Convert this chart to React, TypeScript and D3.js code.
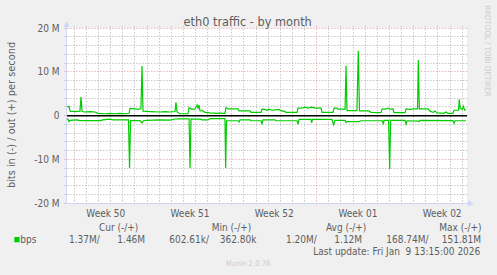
import React from "react";
import * as d3 from "d3";

// ---------- data (values in Mbit/s, x in days since graph start) ----------
const outSeries: [number, number][] = [
  [0, 2.0], [0.165, 2.1], [0.25, 1.0], [0.66, 0.9], [1.07, 1.0], [1.155, 4.2], [1.24, 1.0],
  [1.4, 0.8], [1.9, 0.9], [2.31, 0.8], [2.56, 0.5], [3.14, 0.4], [3.55, 0.5], [3.96, 0.4],
  [4.37, 0.5], [4.79, 0.4], [5.12, 0.5], [5.2, 1.6], [5.61, 1.5], [5.86, 1.4], [6.1, 1.6],
  [6.19, 11.3], [6.27, 1.0], [6.85, 0.9], [7.67, 0.8], [8.09, 0.9], [8.5, 0.8], [8.91, 0.9],
  [8.99, 3.0], [9.08, 0.8], [9.32, 0.4], [9.98, 0.4], [10.07, 1.8], [10.31, 1.4], [10.56, 1.5],
  [10.73, 2.4], [10.81, 1.7], [10.89, 2.4], [10.97, 1.1], [11.22, 1.05], [11.39, 0.7],
  [11.8, 0.6], [12.46, 0.5], [12.62, 0.6], [12.79, 0.5], [13.03, 0.5], [13.12, 1.8],
  [13.28, 1.5], [14.11, 1.5], [14.19, 1.05], [15.1, 1.05], [15.18, 0.7], [16.01, 0.7],
  [16.09, 1.45], [16.34, 1.4], [16.5, 1.2], [16.67, 1.45], [16.91, 1.2], [17.16, 1.3],
  [17.49, 1.4], [17.66, 1.1], [17.99, 0.9], [18.07, 0.7], [18.98, 0.7], [19.06, 1.7],
  [19.47, 1.75], [19.64, 1.9], [19.88, 1.7], [20.21, 1.9], [20.46, 1.7], [20.96, 1.7],
  [21.04, 0.7], [21.95, 0.7], [22.03, 1.7], [22.27, 1.7], [22.36, 1.45], [22.94, 1.45],
  [23.02, 11.35], [23.1, 1.1], [23.92, 1.1], [24.03, 14.8], [24.13, 1.05], [24.91, 1.05],
  [25.08, 0.7], [25.91, 0.65], [25.99, 1.45], [26.32, 1.5], [26.48, 1.7], [26.65, 1.45],
  [26.9, 1.5], [26.98, 0.65], [27.89, 0.65], [27.97, 1.5], [28.3, 1.4], [28.63, 1.5],
  [28.92, 1.5], [28.98, 12.7], [29.07, 1.5], [29.78, 1.5], [29.95, 1.0], [30.2, 0.7],
  [30.36, 1.0], [30.53, 0.6], [31.11, 0.5], [31.27, 0.8], [31.43, 0.5], [31.84, 0.5],
  [31.93, 1.2], [32.3, 1.2], [32.36, 3.7], [32.44, 1.6], [32.59, 1.4], [32.7, 2.1],
  [32.79, 1.3], [32.92, 1.3],
];

const inSeries: [number, number][] = [
  [0, -0.85], [0.08, -0.85], [0.165, -1.4], [0.25, -1.1], [0.83, -1.0], [1.07, -1.15],
  [2.72, -1.15], [2.97, -1.0], [3.3, -0.9], [3.55, -0.85], [3.8, -1.0], [4.79, -1.0],
  [5.07, -1.0], [5.16, -12.0], [5.24, -1.15], [6.02, -1.15], [6.19, -1.7], [6.31, -1.2],
  [6.6, -1.1], [7.67, -1.0], [8.5, -1.05], [8.91, -0.8], [9.16, -0.75], [10.07, -0.75],
  [10.15, -12.0], [10.23, -0.85], [10.97, -0.85], [11.14, -1.0], [11.63, -1.0], [11.8, -0.7],
  [13.03, -0.7], [13.09, -12.0], [13.16, -1.2], [14.11, -1.2], [14.19, -1.5], [14.27, -1.0],
  [15.1, -1.0], [15.18, -1.2], [16.01, -1.2], [16.09, -2.0], [16.17, -1.0], [17.16, -1.0],
  [17.24, -1.2], [18.98, -1.2], [19.06, -2.0], [19.14, -0.9], [20.13, -0.9], [20.19, -1.7],
  [20.25, -0.9], [21.86, -0.9], [21.99, -2.1], [22.11, -1.1], [22.94, -1.1], [23.02, -1.6],
  [23.1, -1.4], [24.09, -1.4], [24.26, -1.2], [26.03, -1.2], [26.1, -2.0], [26.16, -1.1],
  [26.53, -1.1], [26.62, -12.26], [26.7, -1.1], [27.89, -1.1], [27.97, -2.0], [28.05, -1.2],
  [28.96, -1.3], [29.04, -1.4], [29.12, -1.1], [31.84, -1.15], [31.93, -1.8], [32.01, -1.2],
  [32.92, -1.2],
];

const yTicks = [20, 10, 0, -10, -20];
const yTickLabels = ["20 M", "10 M", "0", "-10 M", "-20 M"];
const weekStarts = [6.6, 13.6, 20.6, 27.6];
const weekLabelDays = [3.2, 10.15, 17.1, 24.0, 30.95];
const weekLabels = ["Week 50", "Week 51", "Week 52", "Week 01", "Week 02"];
const legendHeaders = ["Cur (-/+)", "Min (-/+)", "Avg (-/+)", "Max (-/+)"];
const legendValues = ["1.37M/", "1.46M", "602.61k/", "362.80k", "1.20M/", "1.12M", "168.74M/", "151.81M"];

const W = 497;
const H = 275;
const FONT = "'DejaVu Sans Condensed', 'DejaVu Sans', sans-serif";
const TXT = "#5E5E5E";
const AXIS = "#CFD6F8";
const GREEN = "#00CC00";

export default function App() {
  const x = d3.scaleLinear().domain([0, 33]).range([67, 467]);
  const y = d3.scaleLinear().domain([-20, 20]).range([203, 28]);
  const px = (v: number) => Math.floor(v) + 0.5;

  const line = d3
    .line<[number, number]>()
    .x((d) => x(d[0]))
    .y((d) => y(d[1]));

  const minorY = d3.range(-20, 21, 2).filter((v) => v % 10 !== 0);
  const majorY = d3.range(-20, 21, 10);
  const firstDay = weekStarts[0] - 6;
  const minorX = d3.range(firstDay, 33, 1).filter((d) => !weekStarts.some((w) => Math.abs(w - d) < 0.01));

  const headerX = [99, 211.7, 326, 439.3];
  const valueX = [69, 117.3, 169.3, 219.7, 286, 334.3, 386.3, 441.7];

  return (
    <div style={{ position: "fixed", left: 0, top: 0 }}>
      <svg width={W} height={H} style={{ display: "block", fontFamily: FONT }}>
        <rect x={0} y={0} width={W} height={H} fill="#F0F0F0" />
        <rect x={67} y={28} width={400} height={175} fill="#FFFFFF" />

        {/* minor grid */}
        {minorY.map((v) => (
          <line key={"my" + v} x1={64} x2={469} y1={px(y(v))} y2={px(y(v))}
            stroke="#BBBBBB" strokeOpacity={0.8} strokeWidth={1} strokeDasharray="1.5,1.5" />
        ))}
        {minorX.map((d) => (
          <line key={"mx" + d} x1={px(x(d))} x2={px(x(d))} y1={26} y2={205}
            stroke="#BBBBBB" strokeOpacity={0.8} strokeWidth={1} strokeDasharray="1.5,1.5" />
        ))}
        {/* major grid */}
        {majorY.map((v) => (
          <line key={"My" + v} x1={64} x2={469} y1={px(y(v))} y2={px(y(v))}
            stroke="#E48A8A" strokeOpacity={0.6} strokeWidth={1} strokeDasharray="1.5,1.5" />
        ))}
        {weekStarts.map((d) => (
          <line key={"Mx" + d} x1={px(x(d))} x2={px(x(d))} y1={26} y2={205}
            stroke="#E48A8A" strokeOpacity={0.6} strokeWidth={1} strokeDasharray="1.5,1.5" />
        ))}

        {/* axes */}
        <line x1={66.5} x2={66.5} y1={26} y2={204} stroke={AXIS} strokeWidth={1} />
        <line x1={66} x2={470} y1={203.5} y2={203.5} stroke={AXIS} strokeWidth={1} />
        <path d="M63.5,27 L69.5,27 L66.5,21 Z" fill={AXIS} />
        <path d="M468,200.5 L468,206.5 L474,203.5 Z" fill={AXIS} />

        {/* data */}
        <path d={line(outSeries) || ""} fill="none" stroke={GREEN} strokeWidth={1.2} strokeLinejoin="miter" />
        <path d={line(inSeries) || ""} fill="none" stroke={GREEN} strokeWidth={1.2} strokeLinejoin="miter" />
        <line x1={67} x2={467} y1={y(0) + 0.3} y2={y(0) + 0.3} stroke="#000000" strokeWidth={1.5} />

        {/* y tick labels */}
        {yTicks.map((v, i) => (
          <text key={"yt" + v} x={59.5} y={y(v) + 3.6} textAnchor="end" fontSize={10} fill={TXT}>
            {yTickLabels[i]}
          </text>
        ))}
        {/* x labels */}
        {weekLabelDays.map((d, i) => (
          <text key={"xl" + i} x={x(d)} y={216.7} textAnchor="middle" fontSize={10} fill={TXT}>
            {weekLabels[i]}
          </text>
        ))}

        {/* title */}
        <text x={247.7} y={25.5} textAnchor="middle" fontSize={12.6} fill={TXT}>
          eth0 traffic - by month
        </text>
        {/* y axis label */}
        <text transform="translate(15,115) rotate(-90)" textAnchor="middle" fontSize={10.9} fill={TXT}>
          bits in (-) / out (+) per second
        </text>
        {/* watermark */}
        <text transform="translate(485,5) rotate(90)" textAnchor="start" fontSize={7.9} fill="#CCCCCC">
          RRDTOOL / TOBI OETIKER
        </text>

        {/* legend */}
        {legendHeaders.map((h, i) => (
          <text key={"lh" + i} x={headerX[i]} y={230.7} fontSize={10} fill={TXT}>{h}</text>
        ))}
        <rect x={14.3} y={237} width={5.3} height={5.3} fill={GREEN} />
        <text x={20.3} y={242.7} fontSize={10} fill={TXT}>bps</text>
        {legendValues.map((v, i) => (
          <text key={"lv" + i} x={valueX[i]} y={242.7} fontSize={10} fill={TXT}>{v}</text>
        ))}
        <text x={313.3} y={255} fontSize={10} fill={TXT} style={{ whiteSpace: "pre" }}>
          {"Last update: Fri Jan  9 13:15:00 2026"}
        </text>
        <text x={248} y={265.5} textAnchor="middle" fontSize={7.6} fill="#CCCCCC">
          Munin 2.0.76
        </text>
      </svg>
    </div>
  );
}
